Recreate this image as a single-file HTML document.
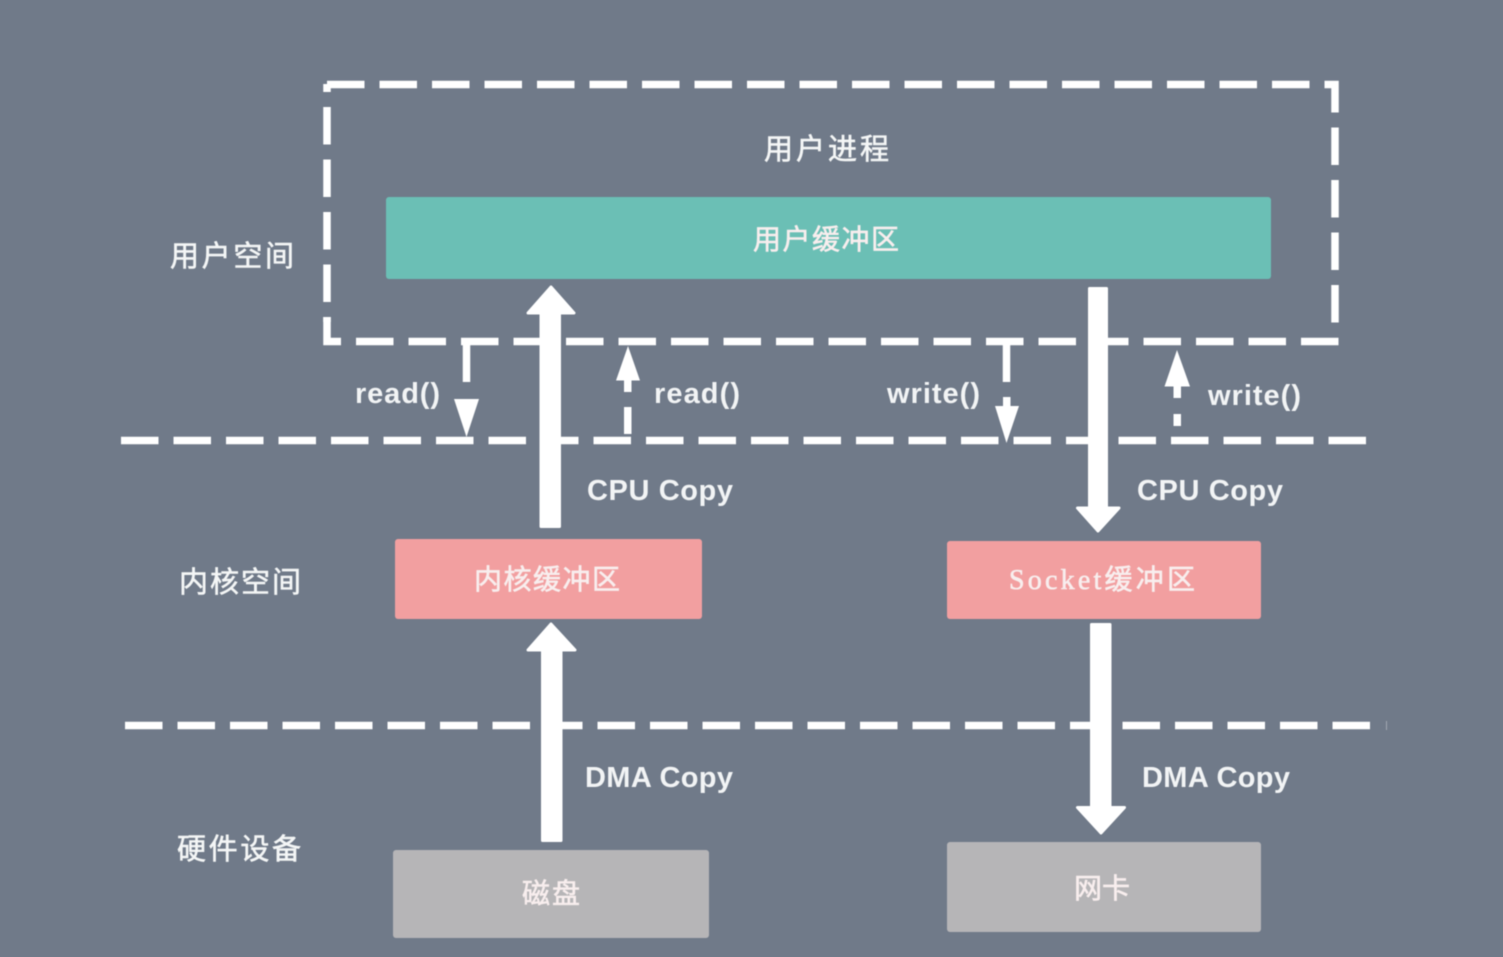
<!DOCTYPE html>
<html lang="zh">
<head>
<meta charset="utf-8">
<title>Diagram</title>
<style>
html,body{margin:0;padding:0;background:#707a89;}
svg{display:block;}
text{font-family:"Liberation Sans","Noto Sans CJK SC",sans-serif;fill:#f4f6f6;}
.en{font-size:29px;font-weight:bold;fill:#f2f4f5;}
.zh{font-size:29px;stroke:#f4f6f6;stroke-width:.6;}
.box{font-size:28px;fill:#f8eeee;stroke:#f8eeee;stroke-width:.6;}
.d{stroke:#fff;stroke-width:7.5;stroke-dasharray:37.5 15;fill:none;}
.s{stroke:#fff;stroke-width:7.5;fill:none;}
.a{fill:#fff;stroke:#fff;stroke-width:3;stroke-linejoin:round;}
</style>
</head>
<body>
<svg width="1503" height="957" viewBox="0 0 1503 957" xmlns="http://www.w3.org/2000/svg">
<defs><filter id="b" x="0" y="0" width="100%" height="100%" filterUnits="userSpaceOnUse" primitiveUnits="userSpaceOnUse"><feGaussianBlur stdDeviation="0.55"/></filter></defs>
<rect width="1503" height="957" fill="#707a89"/>
<g style="filter:blur(0.55px)">

<!-- process box -->
<line class="d" x1="327" y1="84.5" x2="1325" y2="84.500"/>
<path class="s" d="M1325 84.5H1335V112.5"/>
<line class="d" x1="1335" y1="127.5" x2="1335" y2="326"/>
<line class="d" x1="327" y1="107" x2="327" y2="322"/>
<path class="s" d="M327 317V341.5H341"/>
<line class="d" x1="356" y1="341.5" x2="1339" y2="341.5"/>
<line x1="327" y1="84" x2="327" y2="92" stroke="#fff" stroke-width="7.5"/>

<!-- separators -->
<line class="d" x1="121" y1="440.5" x2="1366" y2="440.5"/>
<line class="d" x1="125" y1="725.5" x2="1371" y2="725.5"/>
<line x1="1386.5" y1="721" x2="1386.500" y2="730" stroke="#fff" stroke-width="1" opacity=".35"/>

<!-- boxes -->
<rect x="386" y="197" width="885" height="82" rx="3" fill="#6bbfb5"/>
<rect x="395" y="539" width="307" height="80" rx="3" fill="#f29fa0"/>
<rect x="947" y="541" width="314" height="78" rx="3" fill="#f29fa0"/>
<rect x="393" y="850" width="316" height="88" rx="3" fill="#b6b5b7"/>
<rect x="947" y="842" width="314" height="90" rx="3" fill="#b6b5b7"/>

<!-- thick arrows -->
<path class="a" d="M541 526.5V313H528L551 287L574 313H559.5V526.5Z"/>
<path class="a" d="M1089.5 288.5H1106.5V508H1119L1098 531L1077.5 508H1089.5Z"/>
<path class="a" d="M542.5 840.5V650H528L551 624L575 650H561V840.5Z"/>
<path class="a" d="M1091.5 624.5H1110V807.5H1124.5L1101 833L1077.5 807.5H1091.5Z"/>

<!-- read/write thin arrows -->
<line x1="466.5" y1="341" x2="466.5" y2="382" stroke="#fff" stroke-width="7.5"/>
<path d="M454 399H479L466.5 437Z" fill="#fff"/>
<path d="M628 346L640 380.5H616Z" fill="#fff"/>
<rect x="624" y="380" width="7.5" height="12" fill="#fff"/>
<rect x="624" y="407" width="7.5" height="27" fill="#fff"/>
<line x1="1006.5" y1="341" x2="1006.5" y2="382" stroke="#fff" stroke-width="7.5"/>
<rect x="1003" y="397" width="7.5" height="10" fill="#fff"/>
<path d="M995 406H1019L1006.5 443Z" fill="#fff"/>
<path d="M1177 350L1190 386.5H1164.5Z" fill="#fff"/>
<rect x="1173.5" y="386" width="7.5" height="12" fill="#fff"/>
<rect x="1173.5" y="414" width="7.5" height="12" fill="#fff"/>

<!-- english labels -->
<text class="en" x="355" y="403" textLength="85">read()</text>
<text class="en" x="654" y="403" textLength="86">read()</text>
<text class="en" x="887" y="403" textLength="93">write()</text>
<text class="en" x="1208" y="405" textLength="93">write()</text>
<text class="en" x="587" y="500" textLength="146">CPU Copy</text>
<text class="en" x="1137" y="500" textLength="146">CPU Copy</text>
<text class="en" x="585" y="787" textLength="148">DMA Copy</text>
<text class="en" x="1142" y="787" textLength="148">DMA Copy</text>

<!-- side and process labels -->
<text class="zh" x="764" y="159" textLength="125">用户进程</text>
<text class="zh" x="170" y="266" textLength="124">用户空间</text>
<text class="zh" x="179" y="592" textLength="122">内核空间</text>
<text class="zh" x="177" y="859" textLength="124">硬件设备</text>

<!-- box labels -->
<text class="box" x="753" y="249" textLength="146">用户缓冲区</text>
<text class="box" x="474" y="589" textLength="146">内核缓冲区</text>
<text class="box" x="1009" y="589" textLength="186" style="font-family:'Liberation Serif','Noto Sans CJK SC',serif">Socket缓冲区</text>
<text class="box" x="522" y="903" textLength="58">磁盘</text>
<text class="box" x="1074" y="898" textLength="56">网卡</text>
</g>
</svg>
</body>
</html>
